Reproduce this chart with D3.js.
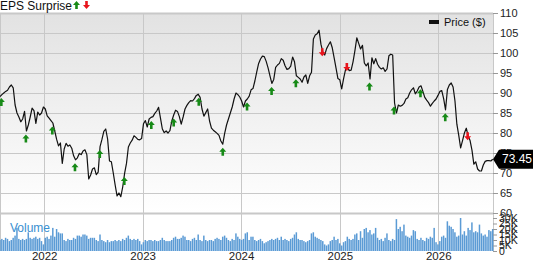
<!DOCTYPE html>
<html>
<head>
<meta charset="utf-8">
<script src="https://cdn.jsdelivr.net/npm/d3@7"></script>
<style>
  body { margin: 0; background: #fff; }
  svg { display: block; font-family: "Liberation Sans", Arial, sans-serif; }
</style>
</head>
<body>
<svg id="chart" width="533" height="262"></svg>
<script>
// weekly closes, starting from weekStart
var weekStart = new Date(2021, 6, 21);
var prices = [
  89.1, 89.6, 90.0, 90.4, 90.7, 91.5, 92.0, 91.3, 87.0, 85.0,
  84.0, 82.8, 83.5, 85.4, 80.5, 82.0, 84.0, 86.2, 85.6, 82.4,
  85.2, 84.5, 85.0, 86.5, 86.0, 84.3, 83.7, 83.1, 82.5, 80.5,
  78.4, 76.8, 77.5, 72.4, 76.0, 77.4, 76.7, 77.0, 76.2, 74.3,
  73.3, 73.8, 74.9, 74.6, 75.5, 75.8, 74.6, 68.5, 69.5, 71.0,
  71.3, 69.6, 70.2, 76.6, 78.4, 80.4, 81.0, 78.5, 73.0, 72.8,
  70.0, 67.0, 64.3, 65.0, 64.1, 66.5, 69.9, 72.4, 76.5, 77.5,
  78.2, 79.3, 78.9, 78.4, 78.3, 78.6, 82.3, 83.1, 81.5, 83.5,
  83.9, 84.1, 84.9, 85.5, 86.4, 83.7, 81.0, 80.1, 80.5, 80.0,
  80.6, 83.0, 84.5, 85.7, 85.4, 84.1, 82.2, 84.0, 86.0, 86.9,
  87.6, 88.1, 88.0, 88.6, 89.4, 89.7, 88.9, 86.0, 84.2, 85.1,
  86.0, 83.0, 81.2, 80.7, 80.3, 79.9, 79.4, 78.0, 77.2, 79.9,
  82.0, 83.5, 85.0, 86.5, 88.5, 90.0, 89.6, 89.0, 88.0, 86.5,
  88.0, 88.5, 89.2, 90.8, 91.1, 93.0, 95.3, 97.4, 98.5, 99.2,
  99.1, 97.9, 96.3, 94.3, 92.4, 93.4, 96.4, 97.0, 97.4, 98.6,
  98.2, 96.8, 95.9, 96.1, 96.7, 99.0, 97.8, 94.3, 93.9, 93.5,
  92.7, 94.0, 94.5, 92.4, 94.3, 95.2, 103.5, 104.5, 104.8, 105.7,
  102.2, 100.2, 99.5, 101.1, 102.0, 102.8, 101.3, 98.8, 96.2, 93.6,
  93.3, 91.0, 93.6, 95.8, 96.5, 95.6, 95.7, 97.8, 100.6, 103.8,
  102.4, 101.0, 101.9, 97.5, 96.8, 97.5, 93.5, 98.8, 97.3, 98.6,
  97.2, 96.4, 96.0, 96.3, 95.4, 96.0, 99.3, 99.7, 99.5, 87.5,
  85.0, 87.0, 86.7, 86.9, 87.4, 88.5, 88.8, 90.0, 90.8, 91.3,
  89.8, 90.5, 91.5, 91.8, 90.4, 88.9, 88.2, 87.6, 86.7, 87.4,
  88.0, 88.5, 89.4, 90.4, 90.6, 88.6, 85.8, 90.9, 92.0, 92.5,
  91.5, 88.0, 82.2, 79.4, 76.3, 78.1, 80.0, 81.2, 79.2, 78.1,
  75.7, 72.2, 72.8, 71.0, 70.5, 70.5, 72.0, 72.9, 73.1, 73.1,
  73.0, 73.45
];
// weekly volume, thousands
var volumes = [
  10, 11, 10, 12, 11, 9, 10, 12, 14, 21,
  11, 10, 11, 10, 11, 17, 12, 11, 12, 13,
  11, 12, 9, 6, 12, 13, 11, 14, 21, 13,
  20, 17, 16, 16, 10, 9, 11, 10, 10, 12,
  11, 14, 14, 13, 15, 15, 14, 11, 12, 12,
  12, 10, 9, 15, 10, 9, 8, 10, 8, 9,
  9, 10, 9, 10, 9, 11, 10, 12, 14, 11,
  10, 11, 10, 11, 9, 6, 8, 10, 9, 10,
  10, 9, 10, 9, 9, 10, 12, 10, 9, 9,
  9, 10, 12, 13, 11, 11, 12, 14, 13, 10,
  10, 9, 11, 12, 10, 15, 10, 9, 14, 10,
  9, 10, 10, 9, 11, 12, 11, 10, 13, 14,
  12, 10, 9, 11, 10, 16, 13, 11, 10, 11,
  16, 17, 10, 13, 13, 10, 9, 10, 11, 9,
  7, 8, 9, 10, 11, 10, 11, 12, 10, 13,
  10, 11, 10, 9, 11, 12, 15, 17, 11, 10,
  10, 9, 8, 9, 10, 16, 17, 13, 12, 11,
  10, 9, 6, 5, 6, 9, 10, 13, 10, 11,
  7, 5, 8, 9, 13, 11, 10, 11, 15, 16,
  10, 18, 12, 20, 21, 17, 19, 15, 16, 21,
  12, 10, 11, 9, 12, 16, 10, 9, 11, 10,
  29, 20, 22, 18, 24, 14, 13, 12, 14, 19,
  18, 11, 10, 12, 10, 9, 12, 11, 13, 12,
  21, 8, 6, 9, 13, 14, 12, 27, 23, 22,
  20, 17, 13, 14, 30, 15, 18, 14, 21, 19,
  26, 17, 18, 17, 24, 16, 14, 15, 13, 19,
  18, 20
];
var epsDates = ["2021-07-26", "2021-10-25", "2022-01-31", "2022-04-25", "2022-07-26",
  "2022-10-25", "2023-02-02", "2023-04-26", "2023-07-28", "2023-10-25",
  "2024-01-23", "2024-04-23", "2024-07-22", "2024-10-28", "2025-01-27",
  "2025-04-21", "2025-07-21", "2025-10-27", "2026-01-27", "2026-04-20"];
var epsBeat = [true, true, true, true, true, true, true, true, true, true,
  true, true, true, false, false, true, true, true, true, false];
var priceTicks = [60, 65, 70, 75, 80, 85, 90, 95, 100, 105, 110];
var volumeTicks = [0, 5, 10, 15, 20, 25, 30];
var lastPrice = "73.45";

var svg = d3.select("#chart"),
  plotW = 493,
  priceTop = 13, priceBottom = 213,
  volTop = 214, volBottom = 251;

var data = prices.map(function (p, i) {
  return { date: d3.timeDay.offset(weekStart, 7 * i), price: p, volume: volumes[i] };
});

var x = d3.scaleTime()
  .domain([weekStart, new Date(2026, 6, 23)])
  .range([0, plotW]);

var y = d3.scaleLinear()
  .domain([60, 110])
  .range([priceBottom, priceTop]);

var yVol = d3.scaleLinear()
  .domain([0, 30])
  .range([volBottom, 218]);

// background gradient
var defs = svg.append("defs");
var grad = defs.append("linearGradient")
  .attr("id", "bg")
  .attr("x1", 0).attr("x2", 0).attr("y1", 0).attr("y2", 1);
grad.append("stop").attr("offset", "0%").attr("stop-color", "#e2e2e2");
grad.append("stop").attr("offset", "100%").attr("stop-color", "#ffffff");

svg.append("rect")
  .attr("x", 0).attr("y", priceTop)
  .attr("width", plotW).attr("height", priceBottom - priceTop)
  .attr("fill", "url(#bg)");

// horizontal grid
svg.append("g").selectAll("line")
  .data(priceTicks)
  .enter().append("line")
  .attr("x1", 0).attr("x2", plotW)
  .attr("y1", function (d) { return Math.round(y(d)) + 0.5; })
  .attr("y2", function (d) { return Math.round(y(d)) + 0.5; })
  .attr("stroke", "#c8c8c8")
  .attr("stroke-width", function (d) { return d === 110 || d === 60 ? 2 : 1; });

// vertical grid on years
var years = x.ticks(d3.timeYear.every(1));
svg.append("g").selectAll("line")
  .data(years)
  .enter().append("line")
  .attr("x1", function (d) { return Math.round(x(d)) + 0.5; })
  .attr("x2", function (d) { return Math.round(x(d)) + 0.5; })
  .attr("y1", priceTop).attr("y2", volBottom)
  .attr("stroke", "#c8c8c8");

// plot borders
svg.append("line")
  .attr("x1", 0.5).attr("x2", 0.5)
  .attr("y1", priceTop).attr("y2", volBottom)
  .attr("stroke", "#c8c8c8");
svg.append("line")
  .attr("x1", plotW + 0.5).attr("x2", plotW + 0.5)
  .attr("y1", priceTop).attr("y2", volBottom)
  .attr("stroke", "#c8c8c8");

// volume bars
svg.append("g").selectAll("rect")
  .data(data)
  .enter().append("rect")
  .attr("x", function (d) { return x(d.date) - 0.8; })
  .attr("width", 1.5)
  .attr("y", function (d) { return yVol(d.volume); })
  .attr("height", function (d) { return volBottom - yVol(d.volume); })
  .attr("fill", "#5b9bd5");

svg.append("text")
  .attr("x", 10).attr("y", 232)
  .attr("font-size", 12)
  .attr("fill", "#3a8fd0")
  .text("Volume");

// price line
var line = d3.line()
  .x(function (d) { return x(d.date); })
  .y(function (d) { return y(d.price); });

svg.append("path")
  .datum(data)
  .attr("d", line)
  .attr("fill", "none")
  .attr("stroke", "#111")
  .attr("stroke-width", 1.2)
  .attr("stroke-linejoin", "round");

// EPS arrows
function upArrow(cx, ty) {
  return "M" + cx + "," + ty + "L" + (cx + 3.5) + "," + (ty + 4) + "L" + (cx + 1.3) + "," + (ty + 4) +
    "L" + (cx + 1.3) + "," + (ty + 8) + "L" + (cx - 1.3) + "," + (ty + 8) + "L" + (cx - 1.3) + "," + (ty + 4) +
    "L" + (cx - 3.5) + "," + (ty + 4) + "Z";
}
function downArrow(cx, by) {
  return "M" + cx + "," + by + "L" + (cx + 3.5) + "," + (by - 4) + "L" + (cx + 1.3) + "," + (by - 4) +
    "L" + (cx + 1.3) + "," + (by - 8) + "L" + (cx - 1.3) + "," + (by - 8) + "L" + (cx - 1.3) + "," + (by - 4) +
    "L" + (cx - 3.5) + "," + (by - 4) + "Z";
}
var bisect = d3.bisector(function (d) { return d.date; }).center;
var parse = d3.timeParse("%Y-%m-%d");

svg.append("g").selectAll("path")
  .data(epsDates.map(function (s, i) { return { date: parse(s), beat: epsBeat[i] }; }))
  .enter().append("path")
  .attr("d", function (d) {
    var p = data[bisect(data, d.date)].price;
    var cx = x(d.date), ly = y(p);
    return d.beat ? upArrow(cx, ly + 3.5) : downArrow(cx, ly + 4);
  })
  .attr("fill", function (d) { return d.beat ? "#178a17" : "#e8141c"; });

// header
svg.append("text")
  .attr("x", 0).attr("y", 10)
  .attr("font-size", 12)
  .attr("fill", "#111")
  .text("EPS Surprise");
svg.append("path").attr("d", upArrow(76.5, 1)).attr("fill", "#178a17");
svg.append("path").attr("d", downArrow(86.5, 9)).attr("fill", "#e8141c");

// legend
svg.append("rect")
  .attr("x", 429).attr("y", 20)
  .attr("width", 10).attr("height", 4)
  .attr("fill", "#111");
svg.append("text")
  .attr("x", 444).attr("y", 26)
  .attr("font-size", 11)
  .attr("fill", "#111")
  .text("Price ($)");

// right axes
var priceAxis = d3.axisRight(y)
  .tickValues(priceTicks)
  .tickSize(5)
  .tickPadding(2);
var gp = svg.append("g")
  .attr("transform", "translate(" + plotW + ",0)")
  .call(priceAxis);
gp.select(".domain").remove();
gp.selectAll("line").attr("stroke", "#999");
gp.selectAll("text").attr("font-size", 11).attr("fill", "#222").attr("font-family", "Liberation Sans, Arial");

var volAxis = d3.axisRight(yVol)
  .tickValues(volumeTicks)
  .tickSize(4)
  .tickPadding(2)
  .tickFormat(function (d) { return d === 0 ? "0" : d + "K"; });
var gv = svg.append("g")
  .attr("transform", "translate(" + plotW + ",0)")
  .call(volAxis);
gv.select(".domain").remove();
gv.selectAll("line").attr("stroke", "#999");
gv.selectAll("text").attr("font-size", 10.5).attr("fill", "#222").attr("font-family", "Liberation Sans, Arial");

// last price marker
var ly = y(+lastPrice);
svg.append("path")
  .attr("d", "M" + plotW + "," + ly + "L" + (plotW + 6) + "," + (ly - 9.5) + "L533," + (ly - 9.5) +
    "L533," + (ly + 9.5) + "L" + (plotW + 6) + "," + (ly + 9.5) + "Z")
  .attr("fill", "#000");
svg.append("text")
  .attr("x", 502).attr("y", ly + 4)
  .attr("font-size", 12)
  .attr("fill", "#fff")
  .text(lastPrice);

// year axis
var xAxis = d3.axisBottom(x)
  .tickValues(years)
  .tickSize(0)
  .tickPadding(0)
  .tickFormat(d3.timeFormat("%Y"));
var gx = svg.append("g")
  .attr("transform", "translate(0,0)")
  .call(xAxis);
gx.select(".domain").remove();
gx.selectAll("text").attr("font-size", 11.5).attr("fill", "#222")
  .attr("y", 260).attr("dy", null).attr("font-family", "Liberation Sans, Arial");
</script>
</body>
</html>
